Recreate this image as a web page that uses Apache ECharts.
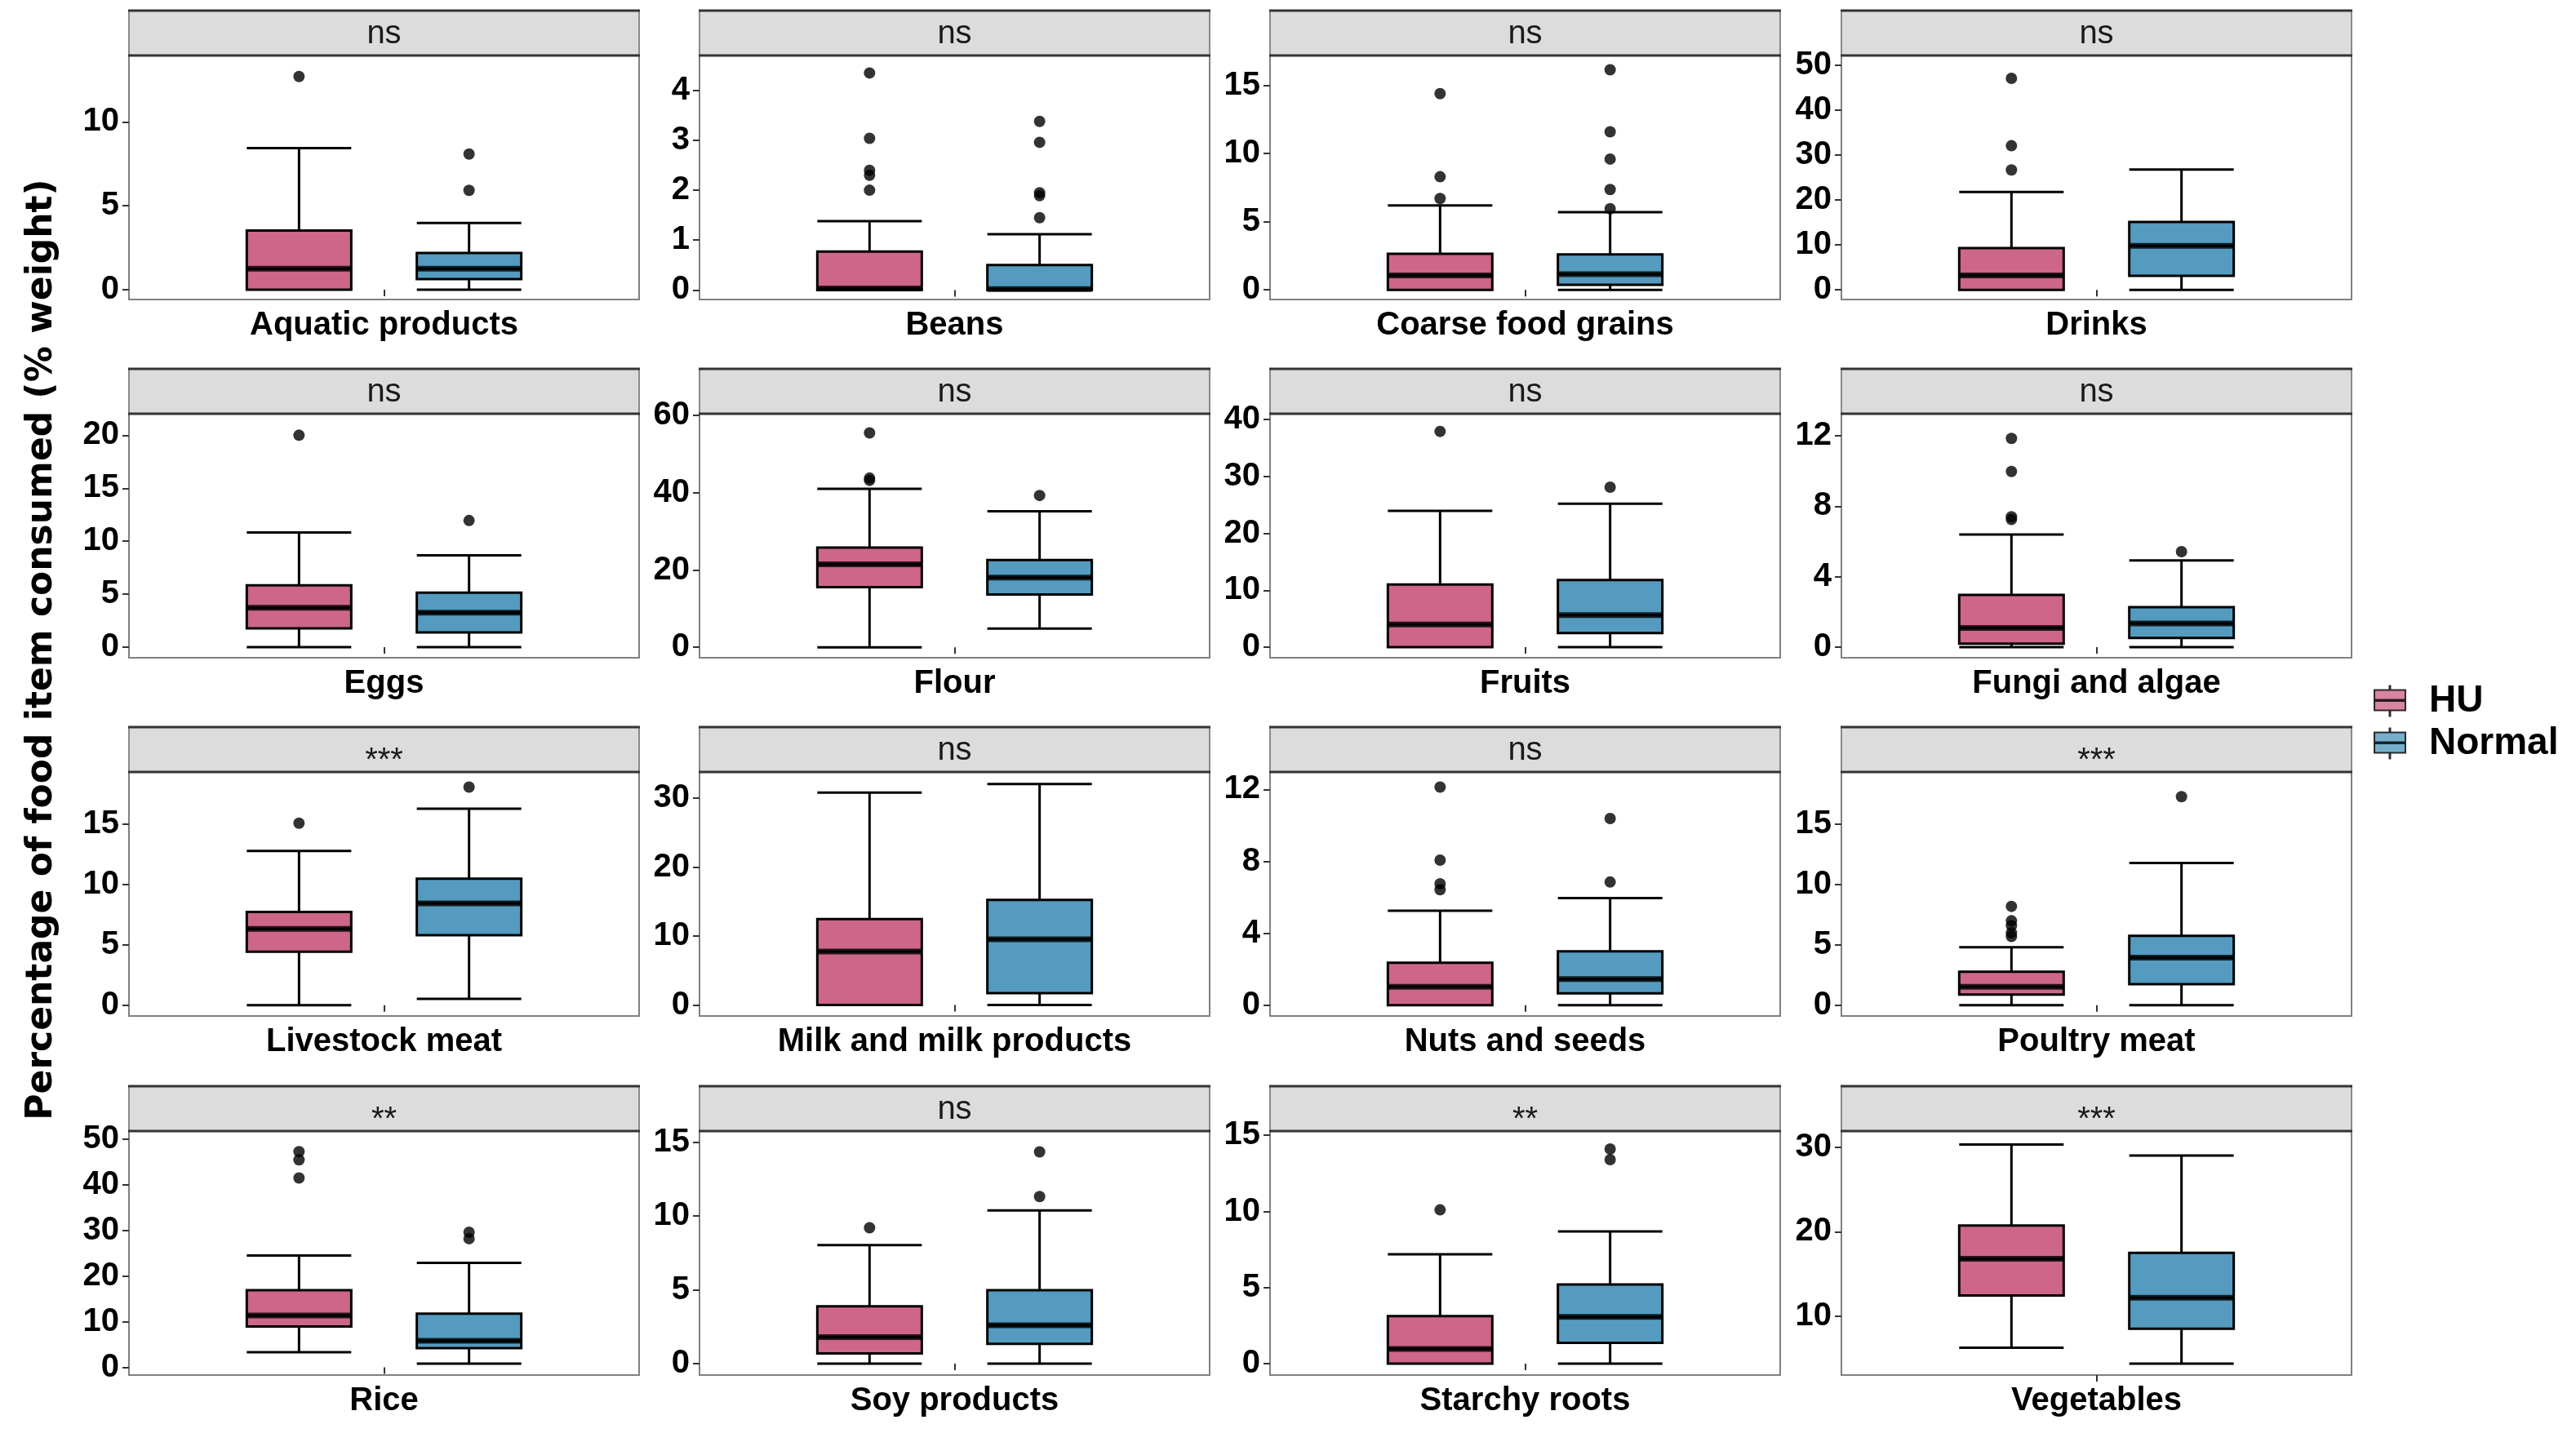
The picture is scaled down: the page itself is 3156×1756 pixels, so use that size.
<!DOCTYPE html>
<html>
<head>
<meta charset="utf-8">
<script src="https://cdn.jsdelivr.net/npm/echarts@6/dist/echarts.min.js"></script>
<style>
html,body{margin:0;padding:0;background:#fff;}
#main{width:3156px;height:1756px;}
</style>
</head>
<body>
<div id="main"></div>
<script>
// ---------------- data ----------------
const categories = [
  'Aquatic products','Beans','Coarse food grains','Drinks',
  'Eggs','Flour','Fruits','Fungi and algae',
  'Livestock meat','Milk and milk products','Nuts and seeds','Poultry meat',
  'Rice','Soy products','Starchy roots','Vegetables'
];
const signif = ['ns','ns','ns','ns','ns','ns','ns','ns','***','ns','ns','***','**','ns','**','***'];
const groups = ['HU','Normal'];
// [lower whisker, Q1, median, Q3, upper whisker]
const huStats = [
  [0,0,1.26,3.53,8.44],
  [0,0,0.03,0.77,1.38],
  [0,0,1.05,2.64,6.2],
  [0,0,3.2,9.3,21.8],
  [0,1.77,3.72,5.84,10.82],
  [0,15.56,21.5,25.8,41.0],
  [0,0,4.0,11.0,23.95],
  [0,0.2,1.09,2.97,6.4],
  [0,4.43,6.33,7.73,12.8],
  [0,0,7.75,12.45,30.8],
  [0,0,1.02,2.36,5.25],
  [0,0.87,1.52,2.77,4.81],
  [3.3,8.96,11.35,16.9,24.5],
  [0,0.7,1.8,3.88,8.03],
  [0,0,0.96,3.13,7.19],
  [6.3,12.47,16.8,20.72,30.3]
];
const normalStats = [
  [0,0.63,1.26,2.19,3.97],
  [0,0,0.02,0.5,1.12],
  [0,0.37,1.15,2.6,5.7],
  [0,3.1,9.8,15.1,26.8],
  [0,1.39,3.25,5.15,8.66],
  [4.87,13.66,18.05,22.6,35.2],
  [0,2.5,5.65,11.8,25.2],
  [0,0.52,1.35,2.27,4.92],
  [0.53,5.8,8.45,10.5,16.3],
  [0,1.72,9.53,15.23,32.05],
  [0,0.66,1.45,3.0,5.96],
  [0,1.74,3.94,5.76,11.8],
  [0.8,4.2,5.8,11.75,22.9],
  [0,1.35,2.6,4.98,10.37],
  [0,1.37,3.07,5.2,8.69],
  [4.42,8.55,12.2,17.5,28.98]
];
const huOutliers = [
  [12.7],
  [2.0,2.3,2.4,3.04,4.35],
  [6.7,8.3,14.4],
  [26.7,32.1,47.1],
  [20.0],
  [43.2,43.8,55.5],
  [37.9],
  [7.25,7.4,9.97,11.85],
  [15.1],
  [],
  [6.42,6.75,8.07,12.13],
  [5.7,6.0,6.6,7.0,8.2],
  [41.5,45.5,47.3],
  [9.2],
  [10.1],
  []
];
const normalOutliers = [
  [5.92,8.08],
  [1.45,1.89,1.95,2.96,3.38],
  [5.95,7.36,9.6,11.6,16.15],
  [],
  [11.95],
  [39.3],
  [28.1],
  [5.42],
  [18.1],
  [],
  [6.85,10.38],
  [17.3],
  [28.2,29.6],
  [11.32,14.34],
  [13.4,14.1],
  []
];
const yMin = [-0.58,-0.19,-0.71,-2.15,-1.0,-2.7,-1.85,-0.6,-0.9,-1.6,-0.6,-0.9,-1.7,-0.77,-0.75,3.08];
const yMax = [13.95,4.70,17.2,52.2,22.03,60.45,41.0,13.25,19.35,33.8,12.97,19.35,51.8,15.75,15.28,31.88];
const yTicks = [
  [0,5,10],[0,1,2,3,4],[0,5,10,15],[0,10,20,30,40,50],
  [0,5,10,15,20],[0,20,40,60],[0,10,20,30,40],[0,4,8,12],
  [0,5,10,15],[0,10,20,30],[0,4,8,12],[0,5,10,15],
  [0,10,20,30,40,50],[0,5,10,15],[0,5,10,15],[10,20,30]
];
const yTitle = 'Percentage of food item consumed (% weight)';

// ---------------- styling / layout ----------------
const HU_COLOR = '#CD6688';
const N_COLOR = '#549BBF';
const COLORS = [HU_COLOR, N_COLOR];
const X_SLOTS = ['s0','s1','HU','s3','Normal','s5','s6'];
const COL_LEFT = [158, 857, 1556, 2256];
const STRIP_TOP = [13, 452, 891, 1331];
const STRIP_H = 55;
const PANEL_W = 625;
const PANEL_H = 299;
const BOX_W = 128;
const SANS = "'Liberation Sans',Arial,sans-serif";

const grids = [], xAxes = [], yAxes = [], series = [], graphics = [];

categories.forEach((cat, i) => {
  const r = Math.floor(i / 4), c = i % 4;
  const left = COL_LEFT[c];
  const top = STRIP_TOP[r] + STRIP_H;
  grids.push({
    left: left, top: top, width: PANEL_W, height: PANEL_H,
    show: true, borderColor: '#808080', borderWidth: 2, backgroundColor: '#fff'
  });
  xAxes.push({
    gridIndex: i, type: 'category', data: X_SLOTS, boundaryGap: false,
    axisLine: {show: false},
    axisLabel: {show: false},
    axisTick: {show: true, interval: (idx) => idx === 3, length: 8, lineStyle: {color: '#333', width: 2}},
    splitLine: {show: false},
    name: cat, nameLocation: 'middle', nameGap: 12,
    nameTextStyle: {fontSize: 40, fontWeight: 'bold', fontFamily: SANS, color: '#000', verticalAlign: 'top'}
  });
  yAxes.push({
    gridIndex: i, type: 'value', min: yMin[i], max: yMax[i],
    axisLine: {show: false},
    splitLine: {show: false},
    axisTick: {show: true, customValues: yTicks[i], length: 8, lineStyle: {color: '#333', width: 2}},
    axisLabel: {customValues: yTicks[i], fontSize: 40, fontWeight: 'bold', fontFamily: SANS, color: '#000', margin: 12}
  });
  series.push({
    type: 'boxplot', xAxisIndex: i, yAxisIndex: i,
    boxWidth: [BOX_W, BOX_W],
    encode: {x: 0, y: [1, 2, 3, 4, 5]},
    data: [
      {value: [groups[0]].concat(huStats[i]), itemStyle: {color: COLORS[0]}},
      {value: [groups[1]].concat(normalStats[i]), itemStyle: {color: COLORS[1]}}
    ],
    itemStyle: {borderColor: '#000', borderWidth: 3},
    emphasis: {disabled: true}, silent: true, z: 2
  });
  // thick median bars
  series.push({
    type: 'scatter', xAxisIndex: i, yAxisIndex: i,
    symbol: 'rect', symbolSize: [BOX_W, 7],
    itemStyle: {color: '#000'},
    data: [[groups[0], huStats[i][2]], [groups[1], normalStats[i][2]]],
    emphasis: {disabled: true}, silent: true, z: 4
  });
  // outliers
  series.push({
    type: 'scatter', name: 'HU', xAxisIndex: i, yAxisIndex: i,
    symbol: 'circle', symbolSize: 14, itemStyle: {color: '#000'},
    data: huOutliers[i].map(v => [groups[0], v]),
    emphasis: {disabled: true}, silent: true, z: 5
  });
  series.push({
    type: 'scatter', name: 'Normal', xAxisIndex: i, yAxisIndex: i,
    symbol: 'circle', symbolSize: 14, itemStyle: {color: '#000'},
    data: normalOutliers[i].map(v => [groups[1], v]),
    emphasis: {disabled: true}, silent: true, z: 5
  });
  // strip
  const sy = STRIP_TOP[r];
  graphics.push({type: 'rect', shape: {x: left, y: sy, width: PANEL_W, height: STRIP_H},
    style: {fill: '#DCDCDC', stroke: '#8a8a8a', lineWidth: 2}, silent: true});
  graphics.push({type: 'line', shape: {x1: left - 1, y1: sy, x2: left + PANEL_W + 1, y2: sy},
    style: {stroke: '#333', lineWidth: 3}, silent: true});
  graphics.push({type: 'line', shape: {x1: left - 1, y1: sy + STRIP_H, x2: left + PANEL_W + 1, y2: sy + STRIP_H},
    style: {stroke: '#333', lineWidth: 3}, silent: true});
  const isStar = signif[i].indexOf('*') >= 0;
  graphics.push({type: 'text', x: left + PANEL_W / 2, y: sy + STRIP_H / 2 + (isStar ? 14 : 1),
    style: {text: signif[i], fontSize: 40, fontFamily: SANS, fill: '#1a1a1a', align: 'center', verticalAlign: 'middle'},
    silent: true});
});

graphics.push({
  type: 'text', x: 52, y: 796, rotation: Math.PI / 2,
  style: {text: yTitle, fontSize: 44, fontWeight: 'bold', fontFamily: "'DejaVu Sans',sans-serif",
    fill: '#000', align: 'center', verticalAlign: 'middle'},
  silent: true
});

const ICON = 'path://M0,5 L38,5 L38,30 L0,30 Z M0,17 L38,17 L38,18.5 L0,18.5 Z M18.5,0 L19.5,0 L19.5,5 L18.5,5 Z M18.5,30 L19.5,30 L19.5,37 L18.5,37 Z';

const option = {
  animation: false,
  backgroundColor: '#fff',
  grid: grids,
  xAxis: xAxes,
  yAxis: yAxes,
  series: series,
  graphic: {elements: graphics},
  legend: {
    orient: 'vertical', left: 2903, top: 830,
    itemWidth: 38, itemHeight: 37, itemGap: 4,
    selectedMode: false,
    textStyle: {fontSize: 46, lineHeight: 48, fontWeight: 'bold', fontFamily: SANS, color: '#000', padding: [0, 0, 0, 24]},
    data: [
      {name: 'HU', icon: ICON, itemStyle: {color: HU_COLOR, borderColor: '#000', borderWidth: 2}},
      {name: 'Normal', icon: ICON, itemStyle: {color: N_COLOR, borderColor: '#000', borderWidth: 2}}
    ]
  }
};

const chart = echarts.init(document.getElementById('main'));
chart.setOption(option);
</script>
</body>
</html>
